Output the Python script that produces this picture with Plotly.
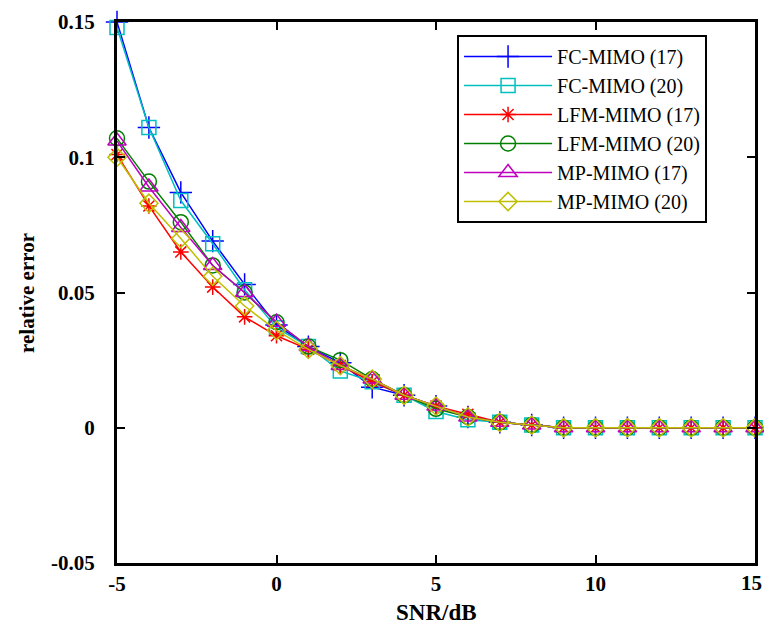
import plotly.graph_objects as go

snr = list(range(-5, 16))

fc17  = [0.150, 0.111, 0.087, 0.069, 0.053, 0.038, 0.030, 0.024, 0.015, 0.012, 0.008, 0.004, 0.002, 0.001, 0.0, 0.0, 0.0, 0.0, 0.0, 0.0, 0.0]
fc20  = [0.148, 0.111, 0.084, 0.068, 0.051, 0.037, 0.030, 0.021, 0.017, 0.012, 0.006, 0.003, 0.002, 0.001, 0.0, 0.0, 0.0, 0.0, 0.0, 0.0, 0.0]
lfm17 = [0.101, 0.082, 0.065, 0.052, 0.041, 0.034, 0.029, 0.023, 0.017, 0.012, 0.008, 0.005, 0.002, 0.001, 0.0, 0.0, 0.0, 0.0, 0.0, 0.0, 0.0]
lfm20 = [0.107, 0.091, 0.076, 0.060, 0.050, 0.039, 0.030, 0.025, 0.018, 0.012, 0.007, 0.004, 0.002, 0.001, 0.0, 0.0, 0.0, 0.0, 0.0, 0.0, 0.0]
mp17  = [0.106, 0.089, 0.074, 0.060, 0.050, 0.039, 0.030, 0.023, 0.018, 0.012, 0.008, 0.004, 0.002, 0.001, 0.0, 0.0, 0.0, 0.0, 0.0, 0.0, 0.0]
mp20  = [0.100, 0.083, 0.070, 0.056, 0.045, 0.036, 0.029, 0.023, 0.018, 0.012, 0.008, 0.004, 0.002, 0.001, 0.0, 0.0, 0.0, 0.0, 0.0, 0.0, 0.0]

names = ["FC-MIMO (17)", "FC-MIMO (20)", "LFM-MIMO (17)", "LFM-MIMO (20)", "MP-MIMO (17)", "MP-MIMO (20)"]
series = [fc17, fc20, lfm17, lfm20, mp17, mp20]
colors = ["#0000FF", "#00BFBF", "#FF0000", "#008000", "#BF00BF", "#BFBF00"]
symbols = ["cross-thin-open", "square-open", "asterisk-open", "circle-open", "triangle-up-open", "diamond-open"]
sizes = [16, 14, 13, 15, 16, 14]

x_ticks = [-5, 0, 5, 10, 15]
y_ticks = [-0.05, 0, 0.05, 0.1, 0.15]
y_tick_text = ["-0.05", "0", "0.05", "0.1", "0.15"]

fig = go.Figure()
for n, s, c, sym, sz in zip(names, series, colors, symbols, sizes):
    fig.add_trace(go.Scatter(
        x=snr, y=s, name=n, mode="lines+markers",
        line=dict(color=c, width=1.5),
        marker=dict(symbol=sym, size=sz, color=c, line=dict(color=c, width=1.5)),
        cliponaxis=False,
    ))

axis_font = dict(family="Liberation Serif", size=21, color="black")
fig.update_layout(
    width=764, height=630,
    margin=dict(l=117, r=9, t=22, b=67),
    plot_bgcolor="white", paper_bgcolor="white",
    font=dict(family="Liberation Serif", color="black"),
    showlegend=True,
    legend=dict(
        x=0.533, y=0.976, xanchor="left", yanchor="top",
        bordercolor="black", borderwidth=2, bgcolor="white",
        font=dict(family="Liberation Serif", size=20, color="black"),
        tracegroupgap=0, itemwidth=88,
    ),
    xaxis=dict(
        range=[-5, 15], tickvals=x_ticks, ticktext=["<b>%d</b>" % v for v in x_ticks],
        showgrid=False, zeroline=False, showline=True, linecolor="black", linewidth=3,
        mirror="ticks", ticks="inside", ticklen=8, tickwidth=1.5, tickcolor="black",
        tickfont=axis_font, automargin=False,
    ),
    yaxis=dict(
        range=[-0.05, 0.15], tickvals=y_ticks, ticktext=["<b>%s</b>" % t for t in y_tick_text],
        showgrid=False, zeroline=False, showline=True, linecolor="black", linewidth=3,
        mirror="ticks", ticks="inside", ticklen=8, tickwidth=1.5, tickcolor="black",
        tickfont=axis_font, automargin=False, ticklabelstandoff=15,
    ),
    annotations=[
        dict(text="<b>SNR/dB</b>", xref="paper", yref="paper", x=0.5, y=-0.092, yanchor="middle",
             showarrow=False, font=dict(family="Liberation Serif", size=23, color="black")),
        dict(text="<b>relative error</b>", xref="paper", yref="paper", x=-0.142, y=0.5, xanchor="center",
             textangle=-90, showarrow=False, font=dict(family="Liberation Serif", size=21, color="black")),
        dict(text="<b>%d</b>" % x_ticks[-1], xref="x", yref="paper", x=x_ticks[-1], y=0, yanchor="top",
             yshift=-6, xshift=-4, showarrow=False, font=axis_font),
    ],
)

fig.write_html("out.html", post_script="document.body.style.margin='0px';",
               config={"displayModeBar": False})
